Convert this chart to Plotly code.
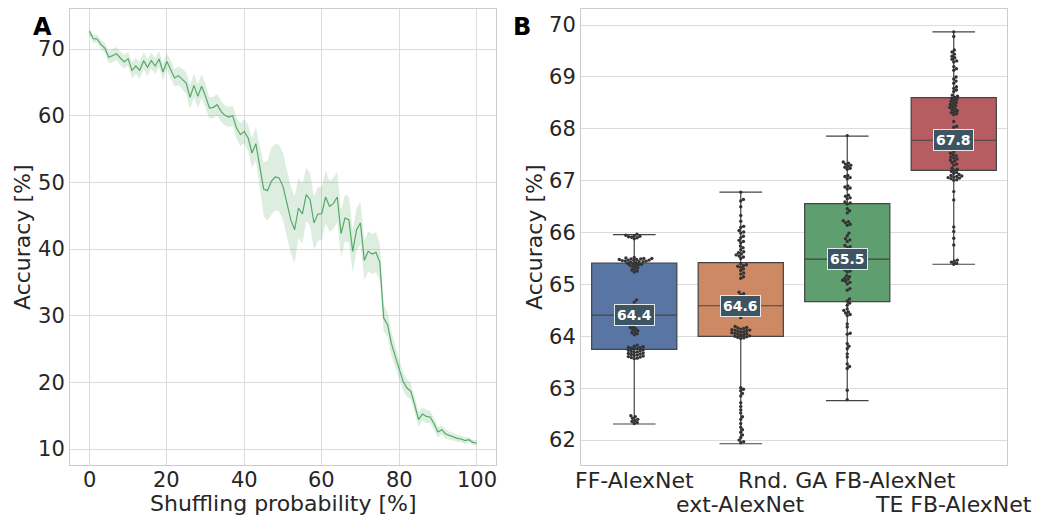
import numpy as np
import plotly.graph_objects as go

# ---------------- Panel A data ----------------
shuffle_prob = list(range(0, 101))
accuracy_mean = [
    72.65, 71.55, 71.5, 70.65, 70.15, 68.75, 69.0, 69.3, 68.65, 68.05,
    68.55, 66.8, 67.45, 66.8, 68.25, 67.25, 68.25, 67.45, 68.5, 66.55,
    68.15, 67.0, 65.65, 66.0, 65.5, 64.9, 62.75, 64.55, 62.9, 64.4,
    62.9, 61.15, 61.25, 61.65, 60.65, 60.05, 59.8, 60.0, 58.15, 57.15,
    57.65, 56.65, 54.4, 55.8, 52.4, 49.0, 48.75, 50.15, 50.8, 50.65,
    49.4, 46.9, 44.4, 42.9, 46.15, 45.25, 48.15, 47.4, 43.9, 45.25,
    45.3, 47.8, 46.4, 46.8, 47.8, 42.3, 44.65, 44.4, 39.65, 42.9,
    43.9, 38.3, 39.65, 39.25, 39.5, 38.0, 29.65, 28.65, 25.8, 23.9,
    22.15, 20.15, 19.15, 18.65, 16.65, 14.4, 15.25, 14.9, 14.8, 13.8,
    12.55, 12.9, 12.25, 12.0, 11.8, 11.6, 11.5, 11.25, 11.4, 11.0,
    10.9,
]
accuracy_spread = [
    0.5, 0.6, 0.6, 0.7, 0.8,
    0.9, 1.0, 1.0, 1.0, 1.0, 1.0,
    1.2, 1.2, 1.3, 1.3, 1.3, 1.2, 1.2, 1.2, 1.3, 1.2,
    1.3, 1.3, 1.4, 1.5, 1.6, 1.8, 1.8, 1.8, 1.8, 1.8,
    1.6, 1.6, 1.6, 1.6, 1.5, 1.5, 1.5, 1.6, 1.7, 1.8,
    2.0, 2.2, 2.5, 3.0,
    4.0, 4.5, 5.0, 5.0, 5.0, 5.0, 5.0, 5.0, 5.0, 4.5, 4.5,
    4.0, 4.0, 4.0, 4.0, 4.0, 4.0, 3.8, 3.8, 3.8, 3.5, 3.5, 3.5,
    3.2, 3.2, 3.2, 3.0, 3.0, 3.0, 3.0, 2.8,
    2.0, 1.8, 1.8, 1.6,
    1.5, 1.4, 1.3, 1.2, 1.2, 1.1,
    1.0, 1.0, 0.9, 0.9, 0.8, 0.7, 0.7, 0.6, 0.6, 0.5, 0.5, 0.5, 0.4, 0.4, 0.4,
]
x_ticks_a = [0, 20, 40, 60, 80, 100]
y_ticks_a = [10, 20, 30, 40, 50, 60, 70]

# ---------------- Panel B data ----------------
models = ["FF-AlexNet", "ext-AlexNet", "Rnd. GA FB-AlexNet", "TE FB-AlexNet"]
box_q1 = [63.75, 64.00, 64.67, 67.20]
box_median = [64.41, 64.59, 65.49, 67.78]
box_q3 = [65.41, 65.42, 66.56, 68.60]
box_low = [62.31, 61.93, 62.76, 65.39]
box_high = [65.96, 66.78, 67.86, 69.87]
box_colors = ["#5875a4", "#cc8963", "#5f9e6e", "#b55d60"]
y_ticks_b = [62, 63, 64, 65, 66, 67, 68, 69, 70]

acc_ff = [
    65.97, 65.95, 65.94, 65.93, 65.92, 65.91, 65.90, 65.88,
    65.52, 65.51, 65.50, 65.50, 65.49, 65.49, 65.48, 65.48, 65.47, 65.47,
    65.46, 65.46, 65.45, 65.45, 65.44, 65.44, 65.43, 65.42, 65.41, 65.40,
    65.39, 65.38, 65.37, 65.36, 65.34, 65.32, 65.30, 65.28, 65.26, 65.24,
    64.70, 64.66, 64.60, 64.52,
    64.19, 64.17, 64.15, 64.13, 64.11, 64.09, 64.07, 64.05, 64.03,
    63.83, 63.81, 63.80, 63.79, 63.78, 63.77, 63.76, 63.75, 63.74, 63.73,
    63.72, 63.71, 63.70, 63.69, 63.68, 63.67, 63.66, 63.65, 63.64, 63.63,
    63.62, 63.61, 63.60, 63.59, 63.58, 63.57,
    62.47, 62.45, 62.42, 62.40, 62.38, 62.36, 62.34, 62.32,
]
acc_ext = [
    66.78, 66.64, 66.61, 66.50, 66.33, 66.22, 66.12, 66.10, 66.04, 66.01,
    65.99, 65.93, 65.90, 65.85, 65.83, 65.80, 65.74, 65.71, 65.67, 65.63,
    65.61, 65.59, 65.57, 65.55, 65.53, 65.50, 65.40, 65.38, 65.36, 65.35,
    65.33, 65.30, 65.27, 65.22, 65.20, 65.15, 65.12,
    64.85, 64.82, 64.80,
    64.36,
    64.19, 64.17, 64.16, 64.15, 64.14, 64.13, 64.12, 64.12, 64.11, 64.10,
    64.09, 64.08, 64.07, 64.06, 64.05, 64.04, 64.03, 64.02, 64.01, 64.00,
    63.99, 63.98, 63.97, 63.96,
    63.01, 62.98, 62.95, 62.90, 62.85,
    62.72, 62.65, 62.58, 62.52, 62.45, 62.40, 62.32, 62.25, 62.20, 62.15,
    62.10, 62.05, 62.00, 61.97, 61.95,
]
acc_rnd = [
    67.87,
    67.36, 67.34, 67.32, 67.30, 67.28, 67.26, 67.24, 67.22,
    67.10, 67.08, 67.06, 67.04,
    66.90, 66.88, 66.86, 66.84,
    66.72, 66.70, 66.67, 66.65,
    66.59, 66.57, 66.55,
    66.46, 66.42, 66.38,
    66.23, 66.21, 66.19, 66.16, 66.14,
    65.99, 65.94,
    65.88, 65.86, 65.83,
    65.75, 65.73, 65.71,
    65.62, 65.60, 65.58, 65.56,
    65.37, 65.35, 65.33, 65.31, 65.30, 65.28, 65.26, 65.24,
    65.17, 65.15, 65.12, 65.10, 65.08, 65.06, 65.04, 65.01,
    64.92, 64.89,
    64.72, 64.68, 64.64, 64.60,
    64.53, 64.50, 64.47, 64.45, 64.42, 64.40,
    64.24, 64.18,
    64.06, 64.04,
    63.86, 63.81, 63.76,
    63.66, 63.60,
    63.47, 63.42, 63.38,
    62.96, 62.78,
]
acc_te = [
    69.87, 69.78,
    69.52, 69.48, 69.44, 69.40, 69.37, 69.34, 69.31, 69.29,
    69.20, 69.16, 69.13,
    69.00, 68.96, 68.92, 68.88,
    68.81, 68.78, 68.75, 68.72,
    68.65, 68.63, 68.61, 68.59, 68.57, 68.55, 68.53, 68.51, 68.49, 68.47,
    68.45, 68.43, 68.41, 68.39, 68.37, 68.35, 68.33, 68.31, 68.29, 68.27,
    68.14, 68.05, 68.03, 67.94,
    67.56, 67.53, 67.50, 67.48, 67.46, 67.44, 67.42, 67.40, 67.38, 67.35,
    67.32, 67.30,
    67.24, 67.22, 67.20, 67.18, 67.16, 67.14, 67.12, 67.10, 67.09, 67.08,
    67.07, 67.06, 67.05, 67.04, 67.02, 67.01,
    66.79, 66.63,
    66.11, 66.02, 65.89, 65.76,
    65.47, 65.45, 65.43, 65.41, 65.39,
]
swarm_groups = [acc_ff, acc_ext, acc_rnd, acc_te]

# ---------------- Layout geometry ----------------
W, H = 1038, 517
A_X = (70, 496)
B_X = (581, 1007)
Y_PX = (9, 465)
ya_range = [7.6, 76.0]
xa_range = [-5, 105]
yb_range = [61.52, 70.31]
xb_range = [-0.5, 3.5]

px_per_cat = (B_X[1] - B_X[0]) / (xb_range[1] - xb_range[0])
px_per_acc = (Y_PX[1] - Y_PX[0]) / (yb_range[1] - yb_range[0])


def beeswarm(values, dot_px):
    """Seaborn-like swarm layout: returns horizontal offsets (px)."""
    ys = np.asarray(values, dtype=float) * px_per_acc
    order = np.argsort(ys)
    placed = []
    offs = np.zeros(len(ys))
    d2 = dot_px * dot_px
    for i in order:
        y = ys[i]
        near = [(px, py) for px, py in placed if abs(py - y) < dot_px]
        cands = [0.0]
        for px, py in near:
            dx = np.sqrt(d2 - (py - y) ** 2)
            cands += [px + dx, px - dx]
        cands.sort(key=lambda c: (abs(c), -c))
        xsel = cands[-1]
        for c in cands:
            if all((c - px) ** 2 + (y - py) ** 2 >= d2 - 1e-6 for px, py in near):
                xsel = c
                break
        placed.append((xsel, y))
        offs[i] = xsel
    return offs


TXT = "#262626"
FONT = "DejaVu Sans"
GRID = "#dcdcdc"
SPINE = "#cccccc"

fig = go.Figure()

# ---- Panel A: band + line ----
upper = [m + s for m, s in zip(accuracy_mean, accuracy_spread)]
lower = [m - s for m, s in zip(accuracy_mean, accuracy_spread)]
fig.add_trace(go.Scatter(x=shuffle_prob, y=upper, mode="lines", line=dict(width=0),
                         showlegend=False, hoverinfo="skip", xaxis="x", yaxis="y"))
fig.add_trace(go.Scatter(x=shuffle_prob, y=lower, mode="lines", line=dict(width=0),
                         fill="tonexty", fillcolor="rgba(85,168,104,0.2)",
                         showlegend=False, hoverinfo="skip", xaxis="x", yaxis="y"))
fig.add_trace(go.Scatter(x=shuffle_prob, y=accuracy_mean, mode="lines",
                         line=dict(color="#55a868", width=1.2),
                         showlegend=False, xaxis="x", yaxis="y"))

# ---- Panel B: boxes ----
for i in range(len(models)):
    fig.add_trace(go.Box(
        x=[i], q1=[box_q1[i]], median=[box_median[i]], q3=[box_q3[i]],
        lowerfence=[box_low[i]], upperfence=[box_high[i]],
        fillcolor=box_colors[i], line=dict(color="#444444", width=1.2),
        width=0.8, whiskerwidth=0.5, boxpoints=False, showlegend=False,
        xaxis="x2", yaxis="y2", name=models[i]))

# ---- Panel B: swarm points ----
for i, vals in enumerate(swarm_groups):
    offs = beeswarm(vals, 3.1) / px_per_cat
    fig.add_trace(go.Scatter(
        x=[i + o for o in offs], y=vals, mode="markers",
        marker=dict(size=3.4, color="#333333", line=dict(width=0)),
        showlegend=False, xaxis="x2", yaxis="y2"))

annotations = []
for i, m in enumerate(box_median):
    annotations.append(dict(
        x=i, y=m, xref="x2", yref="y2", text="<b>%.1f</b>" % m, showarrow=False,
        xanchor="center", yanchor="middle",
        font=dict(family=FONT, size=14, color="white"),
        bgcolor="#3d5563", bordercolor="#e8e8e8", borderwidth=1, borderpad=2))

# category labels (staggered)
label_y_px = [480, 504, 480, 504]
for i, name in enumerate(models):
    annotations.append(dict(
        x=i, y=1 - label_y_px[i] / H, xref="x2", yref="paper", text=name,
        showarrow=False, xanchor="center", yanchor="middle",
        font=dict(family=FONT, size=22, color=TXT)))

# x tick labels of panel A
for t in x_ticks_a:
    annotations.append(dict(
        x=t, y=1 - 480 / H, xref="x", yref="paper", text=str(t),
        showarrow=False, xanchor="center", yanchor="middle",
        font=dict(family=FONT, size=21, color=TXT)))


def paper_text(xp, yp, text, size, angle=0, color=TXT):
    return dict(x=xp / W, y=1 - yp / H, xref="paper", yref="paper", text=text,
                textangle=angle, showarrow=False, xanchor="center", yanchor="middle",
                font=dict(family=FONT, size=size, color=color))


annotations += [
    paper_text(283, 503, "Shuffling probability [%]", 22),
    paper_text(22, 237, "Accuracy [%]", 22, -90),
    paper_text(534, 237, "Accuracy [%]", 22, -90),
    paper_text(42, 27, "<b>A</b>", 24, 0, "black"),
    paper_text(522, 27, "<b>B</b>", 24, 0, "black"),
]

axis_common = dict(showline=True, mirror=True, linecolor=SPINE, linewidth=1,
                   zeroline=False, ticks="", ticklen=0, gridcolor=GRID, gridwidth=1,
                   automargin=False, tickangle=0,
                   tickfont=dict(family=FONT, size=21, color=TXT))

ydom = [1 - Y_PX[1] / H, 1 - Y_PX[0] / H]
fig.update_layout(
    width=W, height=H, margin=dict(l=0, r=0, t=0, b=0, autoexpand=False),
    paper_bgcolor="white", plot_bgcolor="white", boxmode="overlay",
    font=dict(family=FONT, color=TXT),
    xaxis=dict(domain=[A_X[0] / W, A_X[1] / W], range=xa_range, tickvals=x_ticks_a,
               showticklabels=False, showgrid=True, anchor="y", **axis_common),
    yaxis=dict(domain=ydom, range=ya_range, tickvals=y_ticks_a, showgrid=True,
               anchor="x", **axis_common),
    xaxis2=dict(domain=[B_X[0] / W, B_X[1] / W], range=xb_range, tickvals=[0, 1, 2, 3],
                showticklabels=False, showgrid=False, anchor="y2", **axis_common),
    yaxis2=dict(domain=ydom, range=yb_range, tickvals=y_ticks_b, showgrid=True,
                anchor="x2", **axis_common),
    annotations=annotations,
)

fig.write_html("out.html")
